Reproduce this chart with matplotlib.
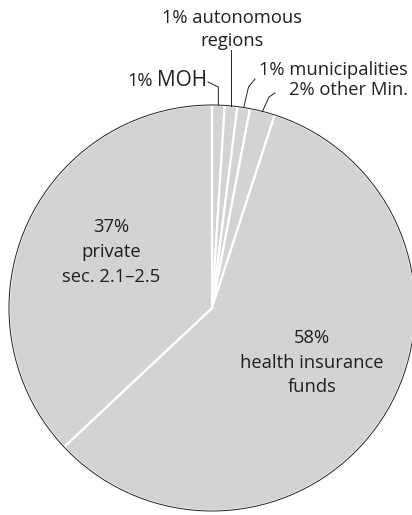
import matplotlib
matplotlib.use("Agg")
import matplotlib.pyplot as plt
from matplotlib.patches import Circle
import numpy as np

# Health expenditure by source of funds (percent)
sources = ["MOH", "autonomous regions", "municipalities", "other Min.",
           "health insurance funds", "private"]
shares = [1, 1, 1, 2, 58, 37]

FILL = "#d1d3d4"
INK = "#231f20"
plt.rcParams["font.family"] = ["Open Sans", "DejaVu Sans"]

W, H = 412, 515
fig = plt.figure(figsize=(W / 100, H / 100), dpi=100)
ax = fig.add_axes([0, 0, 1, 1])

cx, cy, R = 212, H - 308, 203
wedges, _ = ax.pie(shares, colors=[FILL] * len(shares), startangle=90,
                   counterclock=False, center=(cx, cy), radius=R,
                   wedgeprops=dict(edgecolor="white", linewidth=1.6),
                   frame=True)
ax.set_xlim(0, W)
ax.set_ylim(0, H)
ax.set_aspect("equal")
ax.axis("off")
ax.add_patch(Circle((cx, cy), R, fill=False, edgecolor=INK, linewidth=0.7))


def rim(w):
    a = np.deg2rad((w.theta1 + w.theta2) / 2)
    return cx + R * np.cos(a), cy + R * np.sin(a)


fs = 13.2
lw = 0.7

# MOH: name set slightly larger than its percentage
x0, y0 = rim(wedges[0])
ax.plot([208, x0, x0], [H - 82, H - 87, y0], color=INK, lw=lw)
moh = ax.text(207, H - 81, sources[0], ha="right", va="center",
              fontsize=fs + 1.8, color=INK)
fig.canvas.draw()
left = ax.transData.inverted().transform(moh.get_window_extent().p0)[0]
ax.text(left - 4, H - 81, f"{shares[0]}%", ha="right", va="center",
        fontsize=fs, color=INK)

x1, y1 = rim(wedges[1])
ax.plot([x1, x1], [H - 50, y1], color=INK, lw=lw)
ax.text(x1 + 1, H - 29.5, f"{shares[1]}% autonomous\nregions", ha="center",
        va="center", fontsize=fs, color=INK, linespacing=1.42)

x2, y2 = rim(wedges[2])
ax.plot([255, 248.5, x2], [H - 79, H - 87, y2], color=INK, lw=lw)
ax.text(408, H - 70, f"{shares[2]}% {sources[2]}", ha="right",
        va="center", fontsize=fs, color=INK)

x3, y3 = rim(wedges[3])
ax.plot([275, 269, x3], [H - 93, H - 97, y3], color=INK, lw=lw)
ax.text(408, H - 90, f"{shares[3]}% {sources[3]}", ha="right",
        va="center", fontsize=fs, color=INK)

ax.text(111, H - 252, f"{shares[5]}%\n{sources[5]}\nsec. 2.1–2.5",
        ha="center", va="center", fontsize=fs, color=INK, linespacing=1.47)
ax.text(312, H - 362.5, f"{shares[4]}%\nhealth insurance\nfunds",
        ha="center", va="center", fontsize=fs, color=INK, linespacing=1.47)

fig.savefig("out.png", dpi=100, facecolor="white")
